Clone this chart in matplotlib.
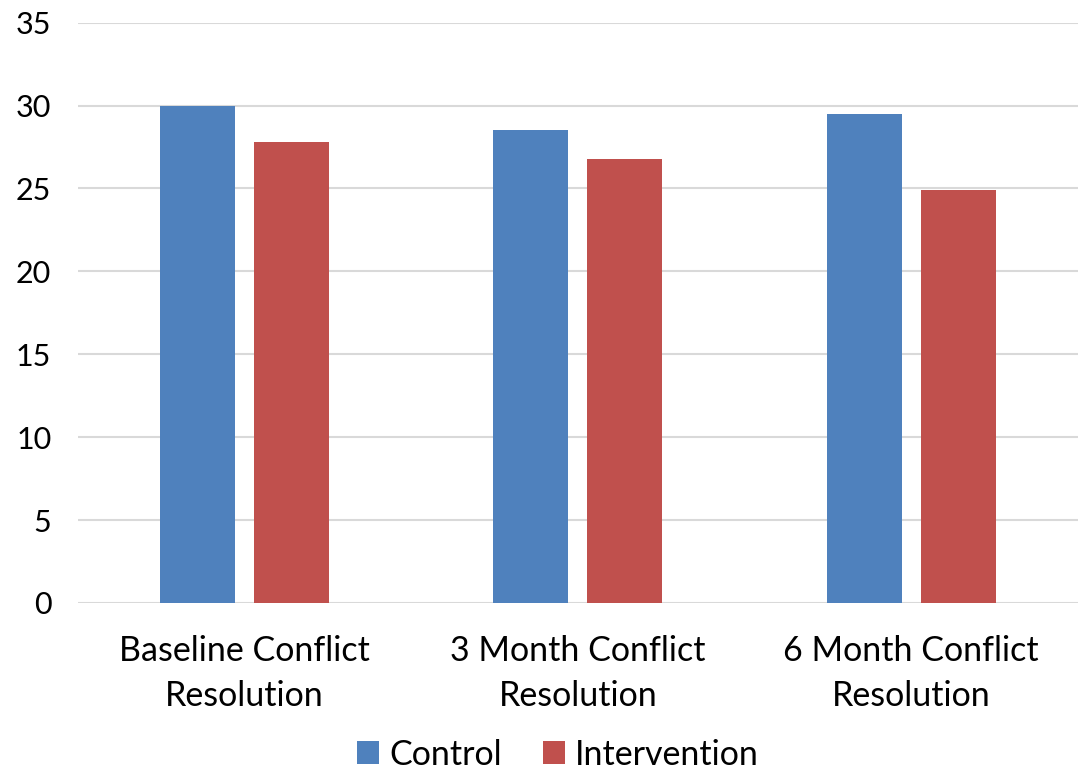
import numpy as np
import matplotlib
matplotlib.use("Agg")
import matplotlib.pyplot as plt

categories = ["Baseline Conflict\nResolution", "3 Month Conflict\nResolution", "6 Month Conflict\nResolution"]
control = [30.0, 28.5, 29.5]
intervention = [27.8, 26.8, 24.9]
series_names = ["Control", "Intervention"]
yticks = [0, 5, 10, 15, 20, 25, 30, 35]

plt.rcParams["font.family"] = ["Lato", "DejaVu Sans"]

fig = plt.figure(figsize=(10.8, 7.82), dpi=100)
ax = fig.add_axes([0.072, 0.229, 0.926, 0.742])

x = np.arange(len(categories))
w = 0.225
off = 0.141
ax.bar(x - off, control, w, color="#4f81bd", label=series_names[0], zorder=3)
ax.bar(x + off, intervention, w, color="#c0504d", label=series_names[1], zorder=3)

ax.set_xlim(-0.5, len(categories) - 0.5)
ax.set_ylim(0, 35)
ax.set_yticks(yticks)
ax.yaxis.grid(True, color="#d9d9d9", linewidth=1.5, zorder=0)
ax.set_axisbelow(True)
for s in ax.spines.values():
    s.set_visible(False)
ax.tick_params(axis="y", length=0, pad=19, labelsize=22)
ax.tick_params(axis="x", length=0, pad=23, labelsize=24.5)
ax.set_xticks(x)
ax.set_xticklabels(categories, linespacing=1.5)

ax.legend(loc="lower center", bbox_to_anchor=(0.48, -0.33), ncol=2, frameon=False,
          fontsize=24.5, handlelength=0.65, handleheight=0.65, handletextpad=0.3,
          columnspacing=1.2, borderpad=0.2)

fig.savefig("out.png", dpi=100)
